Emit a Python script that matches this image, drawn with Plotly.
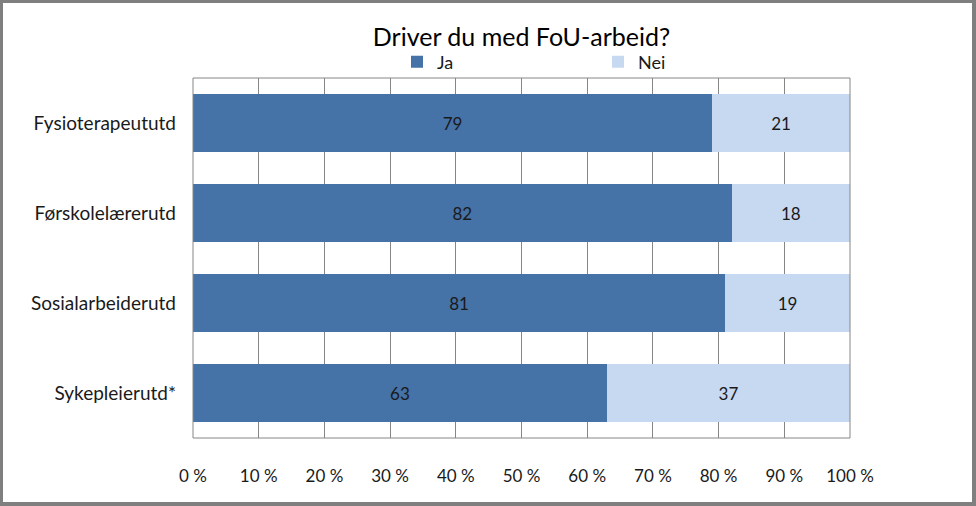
import plotly.graph_objects as go

categories = ["Fysioterapeututd", "Førskolelærerutd", "Sosialarbeiderutd", "Sykepleierutd*"]
ja_values = [79, 82, 81, 63]
nei_values = [21, 18, 19, 37]
tick_vals = [0, 10, 20, 30, 40, 50, 60, 70, 80, 90, 100]
tick_text = ["0 %", "10 %", "20 %", "30 %", "40 %", "50 %", "60 %", "70 %", "80 %", "90 %", "100 %"]

W, H = 976, 506
L, R, T, B = 193, 850, 78, 438
FONT = "Lato"

fig = go.Figure()
fig.add_trace(go.Bar(
    y=categories, x=ja_values, orientation="h", name="Ja",
    marker=dict(color="#4572A7", line=dict(width=0)),
    text=[str(v) for v in ja_values], textposition="inside", insidetextanchor="middle",
    textfont=dict(color="#1a1a1a", size=17, family=FONT),
    hoverinfo="skip",
))
fig.add_trace(go.Bar(
    y=categories, x=nei_values, orientation="h", name="Nei",
    marker=dict(color="#C6D9F1", line=dict(width=0)),
    text=[str(v) for v in nei_values], textposition="inside", insidetextanchor="middle",
    textfont=dict(color="#1a1a1a", size=17, family=FONT),
    hoverinfo="skip",
))

def px_x(px):
    return (px - L) / (R - L)

def px_y(py):
    return (B - py) / (B - T)

shapes = [
    dict(type="rect", xref="paper", yref="paper", x0=0, x1=1, y0=0, y1=1,
         line=dict(color="#868686", width=1), layer="above"),
    dict(type="rect", xref="paper", yref="paper", x0=px_x(1.5), x1=px_x(973.5), y0=px_y(1.5), y1=px_y(503.5),
         line=dict(color="#7f7f7f", width=3), layer="above"),
    dict(type="line", xref="paper", yref="paper", x0=px_x(975), x1=px_x(975), y0=px_y(0), y1=px_y(506),
         line=dict(color="#7f7f7f", width=2), layer="above"),
    dict(type="line", xref="paper", yref="paper", x0=px_x(0), x1=px_x(976), y0=px_y(505), y1=px_y(505),
         line=dict(color="#7f7f7f", width=2), layer="above"),
]

fig.update_layout(
    width=W, height=H,
    margin=dict(l=L, r=W - R, t=T, b=H - B, pad=0, autoexpand=False),
    barmode="stack", bargap=0.356,
    paper_bgcolor="white", plot_bgcolor="white",
    showlegend=True,
    legend=dict(orientation="h", x=px_x(397), xanchor="left", y=px_y(62), yanchor="middle",
                font=dict(size=18, family=FONT, color="#1a1a1a"),
                entrywidth=156, entrywidthmode="pixels", itemwidth=30,
                traceorder="normal", itemclick=False, bgcolor="rgba(0,0,0,0)"),
    title=dict(text="Driver du med FoU-arbeid?", x=0.5, xref="paper", xanchor="center",
               y=1 - 37 / H, yanchor="middle",
               font=dict(size=25, family=FONT, color="#000000")),
    xaxis=dict(range=[0, 100], tickvals=tick_vals, ticktext=tick_text,
               showgrid=True, gridcolor="#868686", gridwidth=1, zeroline=False,
               ticks="", ticklen=0, tickfont=dict(size=17, family=FONT, color="#1a1a1a"),
               ticklabelstandoff=26, showline=False, fixedrange=True),
    yaxis=dict(autorange="reversed", showgrid=False, zeroline=False,
               ticks="", tickfont=dict(size=19, family=FONT, color="#1a1a1a"),
               ticklabelstandoff=16, showline=False, fixedrange=True),
    shapes=shapes,
    font=dict(family=FONT),
)

fig.write_html("out.html", config={"displayModeBar": False},
               post_script="document.body.style.margin='0';document.body.style.overflow='hidden';")
